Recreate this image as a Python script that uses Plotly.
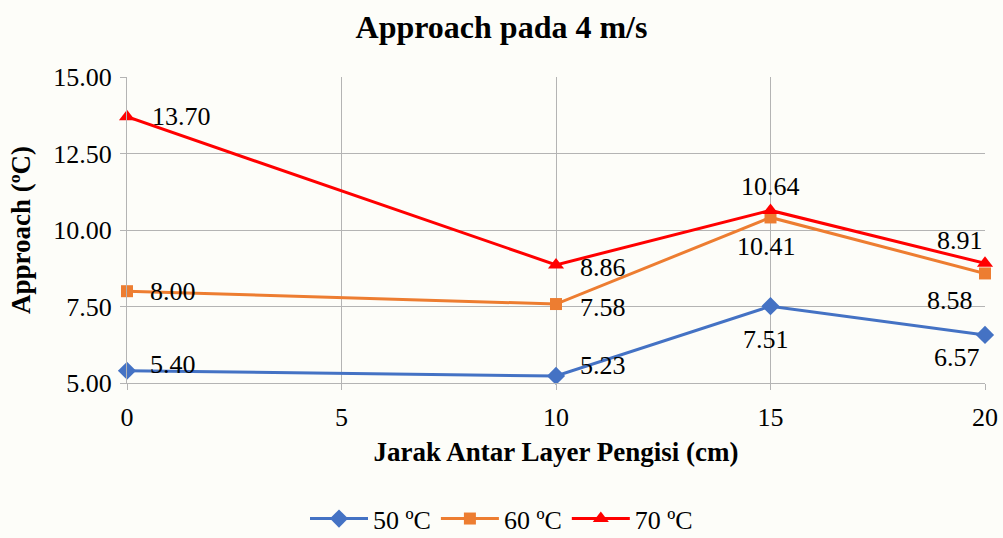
import plotly.graph_objects as go

x_vals = [0, 10, 15, 20]
s50 = [5.40, 5.23, 7.51, 6.57]
s60 = [8.00, 7.58, 10.41, 8.58]
s70 = [13.70, 8.86, 10.64, 8.91]
names = ["50 ºC", "60 ºC", "70 ºC"]

FONT = "Liberation Serif"

# label placement per point: (xanchor, xshift px, yshift px)
lab50 = [("left", 21, 6), ("left", 22, 10), ("center", -5, -33), ("right", -3, -23)]
lab60 = [("left", 21, 0), ("left", 22, -3), ("center", -4, -29), ("right", -10, -27)]
lab70 = [("left", 23, 0), ("left", 22, -3), ("center", 0, 24), ("right", 0, 23)]

series = [
    (s50, names[0], "#4472C4", "diamond", 14, lab50),
    (s60, names[1], "#ED7D31", "square", 12, lab60),
    (s70, names[2], "#FF0000", "triangle-up", 14, lab70),
]

fig = go.Figure()
annotations = []
for vals, name, color, sym, size, labs in series:
    fig.add_trace(go.Scatter(
        x=x_vals, y=vals, name=name, mode="lines+markers",
        line=dict(color=color, width=3),
        marker=dict(symbol=sym, size=size, color=color),
        cliponaxis=False,
    ))
    for xv, yv, (xa, xs, ys) in zip(x_vals, vals, labs):
        annotations.append(dict(
            x=xv, y=yv, xref="x", yref="y", text=f"{yv:.2f}", showarrow=False,
            xanchor=xa, yanchor="middle", xshift=xs, yshift=ys,
            font=dict(family=FONT, size=26, color="black"),
        ))

fig.update_layout(
    width=1003, height=538,
    margin=dict(l=127, r=18, t=77, b=155, autoexpand=False),
    paper_bgcolor="#FDFDF9", plot_bgcolor="#FDFDF9",
    title=dict(text="<b>Approach pada 4 m/s</b>", x=0.5, xanchor="center", y=0.95, yanchor="middle",
               font=dict(family=FONT, size=32, color="black")),
    font=dict(family=FONT, size=26, color="black"),
    showlegend=True,
    legend=dict(orientation="h", xref="container", x=0.5, xanchor="center", yref="container", y=0.036,
                yanchor="middle",
                font=dict(family=FONT, size=26, color="black"), itemwidth=58,
                bgcolor="rgba(0,0,0,0)"),
    annotations=annotations,
)
fig.update_xaxes(
    range=[0, 20], tickvals=[0, 5, 10, 15, 20], ticktext=["0", "5", "10", "15", "20"],
    showgrid=True, gridcolor="#B4B4B4", gridwidth=1,
    showline=True, linecolor="#B4B4B4", ticks="outside", tickcolor="#B4B4B4", ticklen=6,
    ticklabelstandoff=5,
    tickfont=dict(family=FONT, size=26), zeroline=False,
    title=dict(text="<b>Jarak Antar Layer Pengisi (cm)</b>", font=dict(family=FONT, size=27), standoff=10),
)
fig.update_yaxes(
    range=[5, 15], tickvals=[5, 7.5, 10, 12.5, 15], tickformat=".2f",
    showgrid=True, gridcolor="#B4B4B4", gridwidth=1,
    showline=True, linecolor="#B4B4B4", ticks="outside", tickcolor="#B4B4B4", ticklen=6,
    ticklabelstandoff=3,
    tickfont=dict(family=FONT, size=26), zeroline=False,
    title=dict(text="<b>Approach (ºC)</b>", font=dict(family=FONT, size=27), standoff=14),
)

fig.write_html("out.html")
